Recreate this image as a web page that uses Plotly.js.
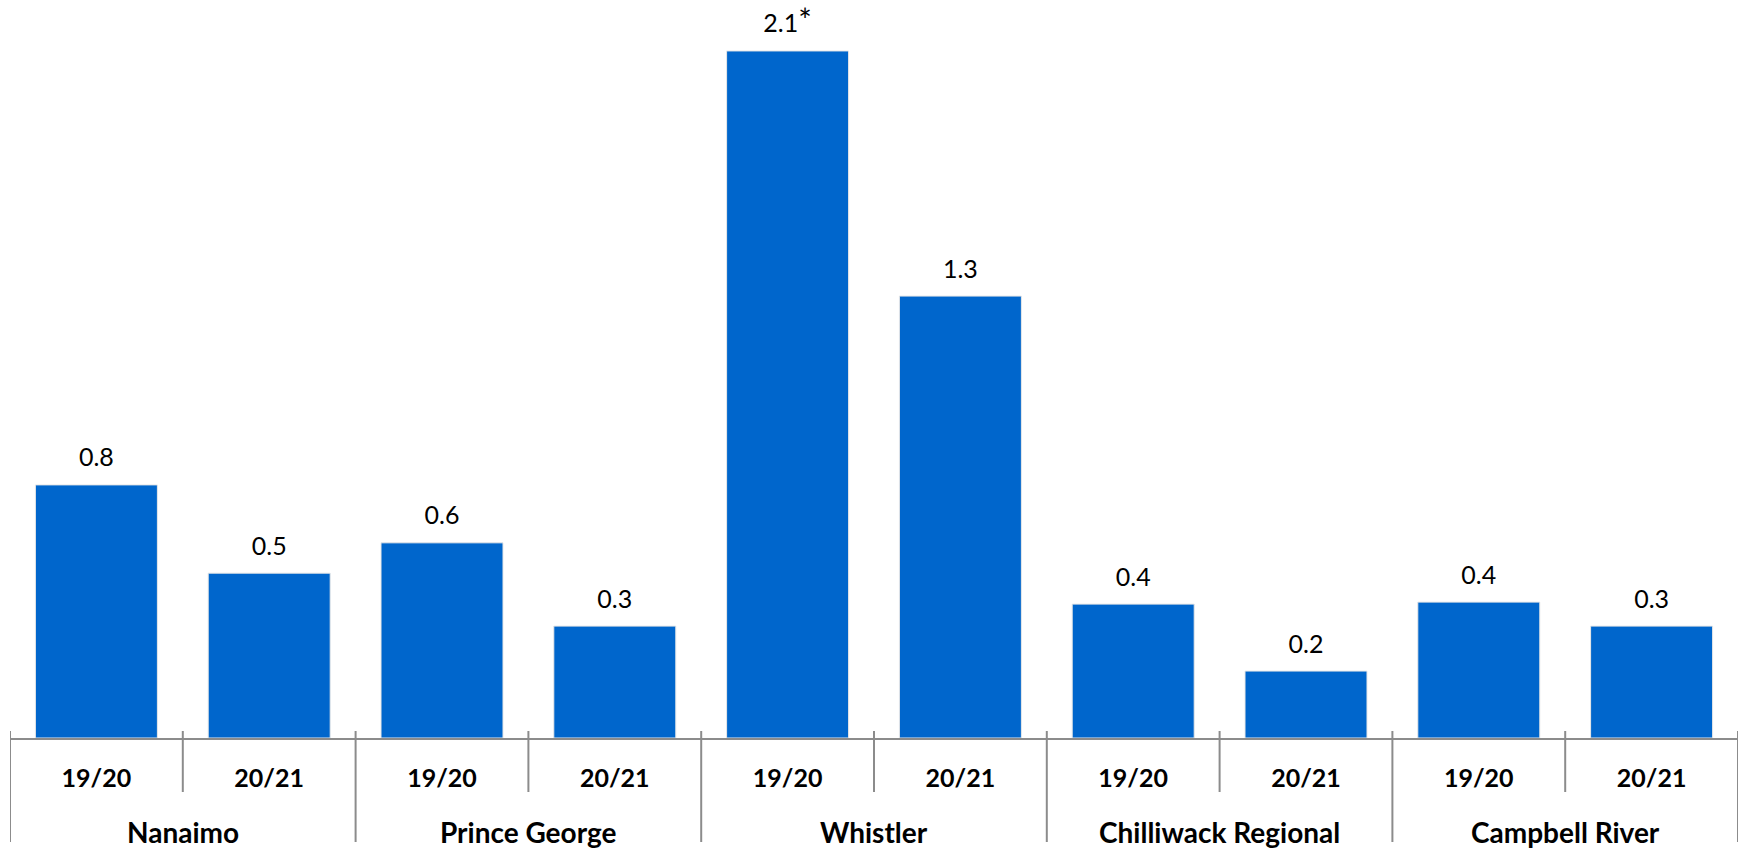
<!DOCTYPE html>
<html>
<head>
<meta charset="utf-8">
<script src="https://cdn.plot.ly/plotly-3.0.1.min.js"></script>
<style>html,body{margin:0;padding:0;background:#fff;} #chart{width:1739px;height:848px;}</style>
</head>
<body>
<div id="chart"></div>
<script>
const groups = ["Nanaimo","Nanaimo","Prince George","Prince George","Whistler","Whistler","Chilliwack Regional","Chilliwack Regional","Campbell River","Campbell River"];
const periods = ["19/20","20/21","19/20","20/21","19/20","20/21","19/20","20/21","19/20","20/21"];
const values = [0.76, 0.495, 0.586, 0.336, 2.063, 1.327, 0.402, 0.201, 0.408, 0.336];
const labels = ["0.8","0.5","0.6","0.3","2.1*","1.3","0.4","0.2","0.4","0.3"];

const idx = periods.map((_, i) => i);
const AXIS_COLOR = "#8c8c8c";
const FONT = "Lato, sans-serif";

const barTrace = {
  type: "bar",
  x: idx,
  y: values,
  width: 0.706,
  marker: {color: "#0066CC", line: {color: "#e8e8e8", width: 1}},
  hoverinfo: "skip"
};
const textTrace = {
  type: "scatter",
  mode: "markers+text",
  x: idx,
  y: values,
  text: labels.map(l => l.replace("*", "<span style='font-size:32px'>*</span>")),
  textposition: "top center",
  marker: {size: 18, opacity: 0},
  textfont: {family: FONT, size: 25, color: "#000"},
  cliponaxis: false,
  hoverinfo: "skip"
};

// group boundaries & labels derived from the data arrays
const shapes = [];
const annotations = [];
for (let i = 0; i <= idx.length; i++) {
  const isGroupEdge = i === 0 || i === idx.length || groups[i] !== groups[i - 1];
  shapes.push({
    type: "line", xref: "x", yref: "paper", ysizemode: "pixel", yanchor: 0,
    x0: i - 0.5, x1: i - 0.5, y0: 7, y1: isGroupEdge ? -104 : -54,
    line: {color: AXIS_COLOR, width: 2}
  });
}
const uniqueGroups = [...new Set(groups)];
uniqueGroups.forEach(g => {
  const members = idx.filter(i => groups[i] === g);
  const center = members.reduce((a, b) => a + b, 0) / members.length;
  annotations.push({
    x: center, xref: "x", y: 0, yref: "paper", yanchor: "middle", yshift: -94,
    text: "<b>" + g + "</b>", showarrow: false,
    font: {family: FONT, size: 28, color: "#000"}
  });
});

const layout = {
  width: 1739, height: 848,
  margin: {l: 10, r: 1, t: 0, b: 110},
  paper_bgcolor: "#fff", plot_bgcolor: "#fff",
  showlegend: false,
  xaxis: {
    range: [-0.5, idx.length - 0.5],
    tickmode: "array", tickvals: idx, ticktext: periods.map(p => "<b>" + p + "</b>"),
    showline: true, linecolor: AXIS_COLOR, linewidth: 2,
    ticks: "", ticklabelstandoff: 17,
    tickfont: {family: FONT, size: 25, color: "#000"},
    showgrid: false, zeroline: false, fixedrange: true
  },
  yaxis: {
    range: [0, 2.216], visible: false, showgrid: false, zeroline: false, fixedrange: true
  },
  shapes: shapes,
  annotations: annotations
};
Plotly.newPlot("chart", [barTrace, textTrace], layout, {staticPlot: true});
</script>
</body>
</html>
